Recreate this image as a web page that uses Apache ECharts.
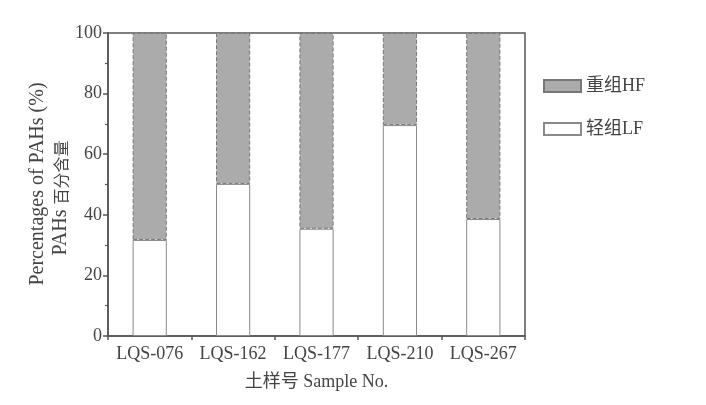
<!DOCTYPE html>
<html><head><meta charset="utf-8">
<script src="https://cdn.jsdelivr.net/npm/echarts@6/dist/echarts.min.js"></script>
<style>html,body{margin:0;padding:0;background:#fff}#c{width:706px;height:405px}</style>
</head><body><div id="c"></div>
<script>
const categories = ['LQS-076','LQS-162','LQS-177','LQS-210','LQS-267'];
const lfValues = [31.7, 50.2, 35.4, 69.6, 38.6];
const hfValues = [68.3, 49.8, 64.6, 30.4, 61.4];
const yTicks = [0, 20, 40, 60, 80, 100];
const yNameLine1 = 'Percentages of PAHs (%)';
const yNameLine2a = 'PAHs ';
const yNameLine2b = '百分含量';

const FONT = '"Liberation Serif", "Noto Sans CJK SC", serif';
const TXT = '#444';
const chart = echarts.init(document.getElementById('c'), null, {renderer:'canvas'});
chart.setOption({
  animation: false,
  backgroundColor: '#fff',
  grid: {left:108, right:181, top:33, bottom:69, show:true, borderColor:'#555', borderWidth:1.5, backgroundColor:'transparent'},
  legend: {
    orient:'vertical', left:538, top:72, itemWidth:37, itemHeight:12, itemGap:25, icon:'rect',
    textStyle:{fontFamily:FONT, fontSize:18, color:TXT},
    data:['重组HF','轻组LF']
  },
  graphic: [
    {type:'text', x:38, y:184, rotation:Math.PI/2,
     style:{text:yNameLine1, font:'20px ' + FONT, fill:TXT, align:'center', verticalAlign:'middle'}},
    {type:'text', x:61, y:198, rotation:Math.PI/2,
     style:{text:'{a|' + yNameLine2a + '}{b|' + yNameLine2b + '}', fill:TXT, align:'center', verticalAlign:'middle',
       rich:{a:{font:'20px ' + FONT, fill:TXT}, b:{font:'16px "Noto Sans CJK SC"', fill:TXT}}}}
  ],
  xAxis: {
    type:'category', data:categories, boundaryGap:true,
    axisLine:{lineStyle:{color:'#555', width:1.5}},
    axisTick:{show:true, length:4, lineStyle:{color:'#555', width:1.5}},
    axisLabel:{fontFamily:FONT, fontSize:18, color:TXT, margin:9, interval:0},
    name:'土样号 Sample No.', nameLocation:'middle', nameGap:37,
    nameTextStyle:{fontFamily:FONT, fontSize:18, color:TXT}
  },
  yAxis: {
    type:'value', min:0, max:100, interval:20,
    axisLine:{show:true, lineStyle:{color:'#555', width:1.5}},
    axisTick:{show:true, length:5, lineStyle:{color:'#555', width:1.5}},
    minorTick:{show:true, splitNumber:2, length:3, lineStyle:{color:'#555', width:1.2}},
    splitLine:{show:false},
    axisLabel:{fontFamily:FONT, fontSize:18, color:TXT, margin:6,
      formatter:v=> yTicks.includes(v) ? String(v) : ''}
  },
  series: [
    {name:'轻组LF', type:'bar', stack:'t', data:lfValues, barWidth:'41%',
     itemStyle:{color:'#ffffff', borderColor:'#8a8a8a', borderWidth:1}},
    {name:'重组HF', type:'bar', stack:'t', data:hfValues, barWidth:'41%',
     itemStyle:{color:'#ababab', borderColor:'#777', borderWidth:1, borderType:'dashed'}}
  ]
});
</script></body></html>
